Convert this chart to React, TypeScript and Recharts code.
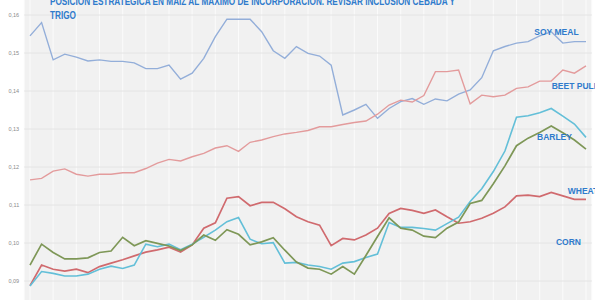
import React from 'react';
import { LineChart, Line, XAxis, YAxis, CartesianGrid, ReferenceDot } from 'recharts';

const weeks = [1, 2, 3, 4, 5, 6, 7, 8, 9, 10, 11, 12, 13, 14, 15, 16, 17, 18, 19, 20, 21, 22, 23, 24, 25, 26, 27, 28, 29, 30, 31, 32, 33, 34, 35, 36, 37, 38, 39, 40, 41, 42, 43, 44, 45, 46, 47, 48, 49];

const soyMeal = [0.1545, 0.1580, 0.1482, 0.1497, 0.1489, 0.1479, 0.1482, 0.1478, 0.1478, 0.1474,
  0.1459, 0.1459, 0.1468, 0.1431, 0.1447, 0.1486, 0.1543, 0.1589, 0.1589, 0.1589,
  0.1556, 0.1506, 0.1486, 0.1517, 0.1499, 0.1492, 0.1468, 0.1337, 0.1350, 0.1365,
  0.1328, 0.1354, 0.1372, 0.1380, 0.1365, 0.1379, 0.1374, 0.1392, 0.1403, 0.1435,
  0.1506, 0.1517, 0.1526, 0.1530, 0.1545, 0.1556, 0.1526, 0.1530, 0.1530];

const beetPulp = [0.1166, 0.1170, 0.1189, 0.1195, 0.1181, 0.1176, 0.1181, 0.1181, 0.1185, 0.1185,
  0.1196, 0.1210, 0.1220, 0.1216, 0.1227, 0.1236, 0.1250, 0.1256, 0.1241, 0.1265,
  0.1271, 0.1280, 0.1287, 0.1291, 0.1296, 0.1306, 0.1306, 0.1312, 0.1317, 0.1321,
  0.1339, 0.1363, 0.1376, 0.1371, 0.1388, 0.1451, 0.1451, 0.1455, 0.1366, 0.1389,
  0.1385, 0.1389, 0.1407, 0.1411, 0.1426, 0.1426, 0.1455, 0.1447, 0.1466];

const wheat = [0.0888, 0.0942, 0.0931, 0.0926, 0.0931, 0.0922, 0.0938, 0.0947, 0.0956, 0.0966,
  0.0976, 0.0982, 0.0989, 0.0976, 0.0995, 0.1039, 0.1053, 0.1118, 0.1122, 0.1098,
  0.1107, 0.1107, 0.1090, 0.1069, 0.1056, 0.1047, 0.0993, 0.1012, 0.1008, 0.1021,
  0.1039, 0.1078, 0.1091, 0.1086, 0.1078, 0.1087, 0.1069, 0.1052, 0.1056, 0.1065,
  0.1078, 0.1095, 0.1124, 0.1126, 0.1122, 0.1133, 0.1124, 0.1115, 0.1115];

const barley = [0.0887, 0.0925, 0.0920, 0.0913, 0.0913, 0.0918, 0.0931, 0.0939, 0.0933, 0.0942,
  0.0997, 0.0990, 0.0997, 0.0982, 0.0997, 0.1015, 0.1034, 0.1056, 0.1067, 0.1010,
  0.0998, 0.1001, 0.0947, 0.0949, 0.0942, 0.0938, 0.0931, 0.0947, 0.0951, 0.0962,
  0.0971, 0.1054, 0.1041, 0.1041, 0.1038, 0.1034, 0.1051, 0.1068, 0.1109, 0.1143,
  0.1188, 0.1242, 0.1331, 0.1335, 0.1343, 0.1354, 0.1334, 0.1313, 0.1278];

const corn = [0.0942, 0.0997, 0.0975, 0.0958, 0.0958, 0.0961, 0.0975, 0.0979, 0.1015, 0.0993,
  0.1006, 0.0999, 0.0992, 0.0980, 0.0995, 0.1021, 0.1007, 0.1035, 0.1023, 0.0995,
  0.1003, 0.1014, 0.0981, 0.0950, 0.0934, 0.0931, 0.0918, 0.0938, 0.0918, 0.0967,
  0.1017, 0.1066, 0.1039, 0.1034, 0.1018, 0.1014, 0.1039, 0.1055, 0.1104, 0.1112,
  0.1156, 0.1203, 0.1256, 0.1276, 0.1291, 0.1308, 0.1290, 0.1271, 0.1247];

const yTicks = [0.09, 0.10, 0.11, 0.12, 0.13, 0.14, 0.15, 0.16];

const titleLine1 = 'POSICIÓN ESTRATÉGICA EN MAÍZ AL MÁXIMO DE INCORPORACIÓN. REVISAR INCLUSIÓN CEBADA Y';
const titleLine2 = 'TRIGO';

const seriesLabels = [
  { text: 'SOY MEAL', week: 46.45, value: 0.15545 },
  { text: 'BEET PULP', week: 48.1, value: 0.14132 },
  { text: 'BARLEY', week: 46.28, value: 0.12797 },
  { text: 'WHEAT', week: 48.74, value: 0.11368 },
  { text: 'CORN', week: 47.49, value: 0.10026 },
];

const data = weeks.map((w, i) => ({
  week: w,
  soyMeal: soyMeal[i],
  beetPulp: beetPulp[i],
  wheat: wheat[i],
  barley: barley[i],
  corn: corn[i],
}));

const BLUE_TEXT = '#2f7bcc';
const FONT = "'Liberation Sans', Arial, sans-serif";

export default function App() {
  return (
    <div style={{ position: 'absolute', left: 0, top: 0, width: 595, height: 300, overflow: 'hidden', background: '#ffffff' }}>
      <div style={{ position: 'absolute', left: 0, top: -23 }}>
        <LineChart width={600} height={342} data={data} margin={{ top: 0, right: 8.2, bottom: 0, left: 0 }}>
          <CartesianGrid horizontal={false} vertical={true} stroke="#fbfbfb" fill="#f1f1f1" fillOpacity={1} />
          <CartesianGrid vertical={false} horizontal={true} stroke="#e4e4e4" />
          <XAxis type="number" dataKey="week" domain={[1, 49]} ticks={weeks} hide padding={{ left: 5.8, right: 5.8 }} />
          <YAxis
            type="number"
            domain={[0.08, 0.17]}
            ticks={yTicks}
            width={24.2}
            axisLine={false}
            tickLine={false}
            tickSize={3}
            tickMargin={2}
            tick={{ fontSize: 5.5, fill: '#8a8a8a', fontFamily: FONT }}
            tickFormatter={(v: number) => v.toFixed(2).replace('.', ',')}
          />
          <Line type="linear" dataKey="soyMeal" stroke="#93aed9" strokeWidth={1.4} dot={false} isAnimationActive={false} />
          <Line type="linear" dataKey="beetPulp" stroke="#e39b9c" strokeWidth={1.4} dot={false} isAnimationActive={false} />
          <Line type="linear" dataKey="wheat" stroke="#d06a6e" strokeWidth={1.7} dot={false} isAnimationActive={false} />
          <Line type="linear" dataKey="barley" stroke="#63bfd8" strokeWidth={1.6} dot={false} isAnimationActive={false} />
          <Line type="linear" dataKey="corn" stroke="#7e9757" strokeWidth={1.7} dot={false} isAnimationActive={false} />
          {seriesLabels.map((l) => (
            <ReferenceDot
              key={l.text}
              x={l.week}
              y={l.value}
              r={0}
              fill="none"
              stroke="none"
              label={{ value: l.text, position: 'center', fill: BLUE_TEXT, fontSize: 8.5, fontWeight: 700, fontFamily: FONT }}
            />
          ))}
        </LineChart>
      </div>
      <svg width={595} height={30} style={{ position: 'absolute', left: 0, top: 0, pointerEvents: 'none' }}>
        <text x={50} y={4.8} fill={BLUE_TEXT} fontSize={11.5} fontWeight={700} fontFamily={FONT} textLength={405} lengthAdjust="spacingAndGlyphs">
          {titleLine1}
        </text>
        <text x={50} y={18.6} fill={BLUE_TEXT} fontSize={11.5} fontWeight={700} fontFamily={FONT} textLength={26} lengthAdjust="spacingAndGlyphs">
          {titleLine2}
        </text>
      </svg>
    </div>
  );
}
